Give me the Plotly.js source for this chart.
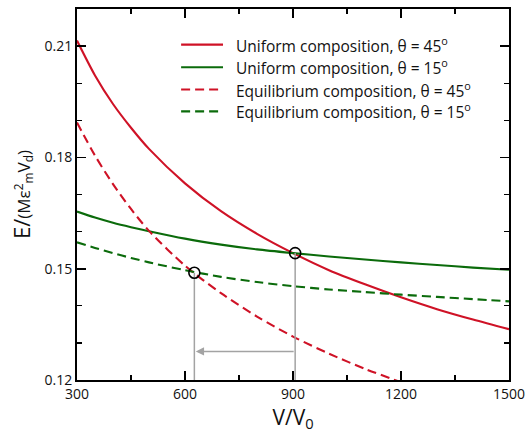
<!DOCTYPE html>
<html>
<head>
<meta charset="utf-8">
<script src="https://cdn.plot.ly/plotly-3.0.1.min.js"></script>
<style>
  html, body { margin: 0; padding: 0; background: #fff; }
  #chart { width: 530px; height: 434px; }
</style>
</head>
<body>
<div id="chart"></div>
<script>
// ---- data ----
const volume = [300, 350, 400, 450, 500, 600, 700, 800, 900, 1000, 1100, 1200, 1300, 1400, 1500];
const uniform45 = [0.2115, 0.2021, 0.1944, 0.1880, 0.1823, 0.1730, 0.1655, 0.1594, 0.1542, 0.1496, 0.1458, 0.1423, 0.1391, 0.1363, 0.1337];
const uniform15 = [0.1654, 0.1638, 0.1624, 0.1612, 0.1601, 0.1581, 0.1565, 0.1552, 0.1542, 0.1533, 0.1525, 0.1517, 0.1510, 0.1503, 0.1497];
const volumeEq45 = [300, 350, 400, 450, 500, 600, 700, 800, 900, 1000, 1100, 1200];
const equilibrium45 = [0.1894, 0.1805, 0.1728, 0.1661, 0.1602, 0.1508, 0.1434, 0.1371, 0.1317, 0.1271, 0.1230, 0.1194];
const equilibrium15 = [0.1571, 0.1556, 0.1542, 0.1529, 0.1517, 0.1496, 0.1478, 0.1464, 0.1453, 0.1444, 0.1437, 0.1430, 0.1424, 0.1418, 0.1412];
const circleV = [626, 906];
const circleE = [0.1489, 0.1542];
const arrowE = 0.1277;
const axisFloor = 0.12;
const seriesNames = [
  'Uniform composition, θ = 45<sup>o</sup>',
  'Uniform composition, θ = 15<sup>o</sup>',
  'Equilibrium composition, θ = 45<sup>o</sup>',
  'Equilibrium composition, θ = 15<sup>o</sup>'
];
const xTicks = [300, 600, 900, 1200, 1500];
const yTicks = [0.12, 0.15, 0.18, 0.21];

// ---- styles ----
const RED = '#cf1226';
const GREEN = '#0b6b0b';
const GRAY = '#a3a3a3';
const FONT = 'Open Sans, Noto Sans, DejaVu Sans, sans-serif';
const DASH = '9px,5px';

const styles = [
  {color: RED, dash: 'solid'},
  {color: GREEN, dash: 'solid'},
  {color: RED, dash: DASH},
  {color: GREEN, dash: DASH}
];

const traces = [
  {x: volume, y: uniform45},
  {x: volume, y: uniform15},
  {x: volumeEq45, y: equilibrium45},
  {x: volume, y: equilibrium15}
].map((t, i) => ({
  x: t.x, y: t.y, type: 'scatter', mode: 'lines', name: seriesNames[i],
  line: {color: styles[i].color, dash: styles[i].dash, width: 2.1, shape: 'spline', smoothing: 0.8},
  showlegend: false, hoverinfo: 'skip'
}));

// guide lines (gray verticals from the circles to the axis)
circleV.forEach((v, i) => {
  traces.push({
    x: [v, v], y: [circleE[i], axisFloor], type: 'scatter', mode: 'lines',
    line: {color: GRAY, width: 1.5}, showlegend: false, hoverinfo: 'skip'
  });
});

// open circles
traces.push({
  x: circleV, y: circleE, type: 'scatter', mode: 'markers',
  marker: {symbol: 'circle-open', size: 11, color: '#000', line: {width: 1.6, color: '#000'}},
  showlegend: false, hoverinfo: 'skip', cliponaxis: false
});

// manual legend (paper coordinates)
const legendRowsY = [0.904, 0.843, 0.783, 0.724];
const shapes = [];
const annotations = [];
legendRowsY.forEach((yy, i) => {
  shapes.push({type: 'line', xref: 'paper', yref: 'paper', x0: 0.241, x1: 0.338, y0: yy, y1: yy,
    line: {color: styles[i].color, width: 2.2, dash: styles[i].dash}});
  annotations.push({xref: 'paper', yref: 'paper', x: 0.364, y: yy, xanchor: 'left', yanchor: 'middle',
    text: seriesNames[i], showarrow: false, font: {family: FONT, size: 15.5, color: '#111'}});
});

// arrow from right vertical to left vertical
annotations.push({
  x: circleV[0] + 4, y: arrowE, ax: circleV[1], ay: arrowE, xref: 'x', yref: 'y', axref: 'x', ayref: 'y',
  text: '', showarrow: true, arrowhead: 2, arrowsize: 1.1, arrowwidth: 1.5, arrowcolor: GRAY
});

const axisCommon = {
  showline: true, linewidth: 2, linecolor: '#000', mirror: 'ticks',
  ticks: 'inside', ticklen: 9, tickwidth: 1.6, tickcolor: '#000',
  showgrid: false, zeroline: false,
  tickfont: {family: FONT, size: 14, color: '#111'}
};

const layout = {
  width: 530, height: 434,
  margin: {l: 77, r: 21, t: 9, b: 54},
  paper_bgcolor: '#fff', plot_bgcolor: '#fff',
  font: {family: FONT, color: '#111'},
  xaxis: Object.assign({}, axisCommon, {
    range: [300, 1500], tickvals: xTicks, ticktext: xTicks.map(String),
    minor: {dtick: 150, tick0: 300, ticks: 'inside', ticklen: 5, tickwidth: 1.4, tickcolor: '#000'},
    title: {text: 'V/V<sub>0</sub>', font: {family: FONT, size: 21, color: '#111'}, standoff: 5}
  }),
  yaxis: Object.assign({}, axisCommon, {
    range: [0.12, 0.22], tickvals: yTicks, ticktext: yTicks.map(v => v.toFixed(2)),
    minor: {dtick: 0.01, tick0: 0.12, ticks: 'inside', ticklen: 5, tickwidth: 1.4, tickcolor: '#000'},
    title: {text: 'E/<span style="font-size:17px">(Mε<sup>2</sup><sub>m</sub>V<sub>d</sub>)</span>',
      font: {family: FONT, size: 22, color: '#111'}, standoff: 8}
  }),
  shapes: shapes,
  annotations: annotations,
  showlegend: false
};

Plotly.newPlot('chart', traces, layout, {displayModeBar: false, staticPlot: true});
</script>
</body>
</html>
